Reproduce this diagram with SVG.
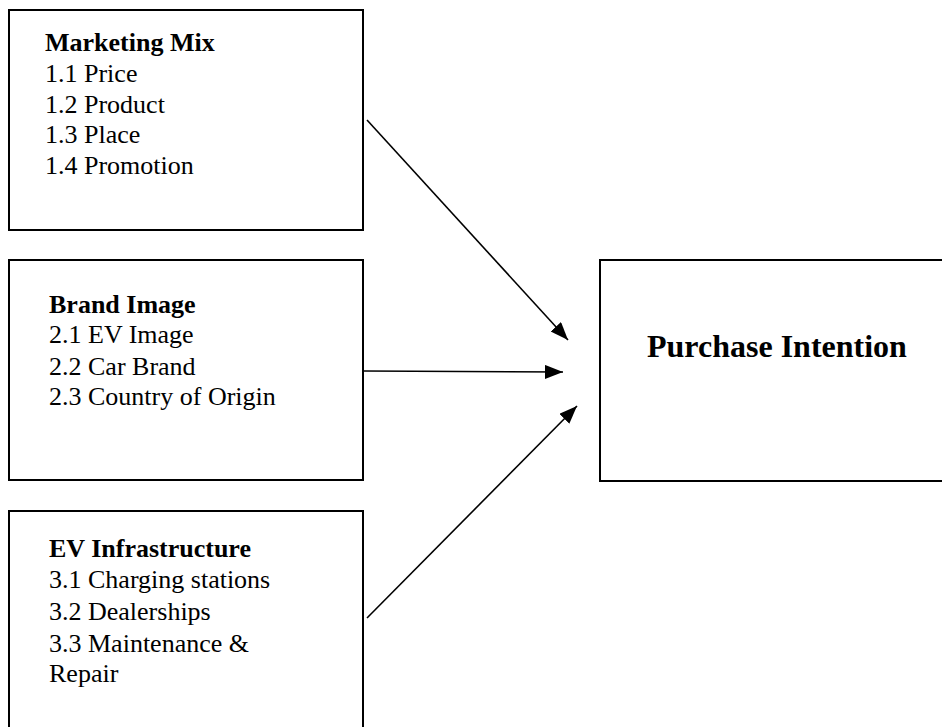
<svg xmlns="http://www.w3.org/2000/svg" width="942" height="727" viewBox="0 0 942 727">
<style>
.box{fill:#fff;stroke:#000;stroke-width:2}
.t{font-family:"Liberation Serif","Times New Roman",serif;font-size:26px;fill:#000}
.b{font-weight:bold}
.pi{font-family:"Liberation Serif","Times New Roman",serif;font-size:32px;font-weight:bold;fill:#000}
.conn{stroke:#000;stroke-width:1.6;fill:none;marker-end:url(#ah)}
</style>
<defs>
<marker id="ah" markerUnits="userSpaceOnUse" markerWidth="20" markerHeight="16" refX="18" refY="7" orient="auto">
<path d="M0,0 L18,7 L0,14 z" fill="#000"/>
</marker>
</defs>
<rect width="942" height="727" fill="#fff"/>
<g id="marketing-mix">
<rect class="box" x="9" y="10" width="354" height="220"/>
<text class="t b" x="45" y="51">Marketing Mix</text>
<text class="t" x="45" y="82">1.1 Price</text>
<text class="t" x="45" y="113">1.2 Product</text>
<text class="t" x="45" y="143">1.3 Place</text>
<text class="t" x="45" y="174">1.4 Promotion</text>
</g>
<g id="brand-image">
<rect class="box" x="9" y="260" width="354" height="220"/>
<text class="t b" x="49" y="313">Brand Image</text>
<text class="t" x="49" y="343">2.1 EV Image</text>
<text class="t" x="49" y="375">2.2 Car Brand</text>
<text class="t" x="49" y="405">2.3 Country of Origin</text>
</g>
<g id="ev-infrastructure">
<rect class="box" x="9" y="511" width="354" height="240"/>
<text class="t b" x="49" y="557">EV Infrastructure</text>
<text class="t" x="49" y="588">3.1 Charging stations</text>
<text class="t" x="49" y="620">3.2 Dealerships</text>
<text class="t" x="49" y="652">3.3 Maintenance &amp;</text>
<text class="t" x="49" y="682">Repair</text>
</g>
<g id="purchase-intention">
<rect class="box" x="600" y="260" width="360" height="221"/>
<text class="pi" x="647" y="357">Purchase Intention</text>
</g>
<g id="connectors">
<line class="conn" x1="367" y1="120" x2="568" y2="340"/>
<line class="conn" x1="364" y1="371" x2="563" y2="372"/>
<line class="conn" x1="367" y1="618" x2="577" y2="406"/>
</g>
</svg>
